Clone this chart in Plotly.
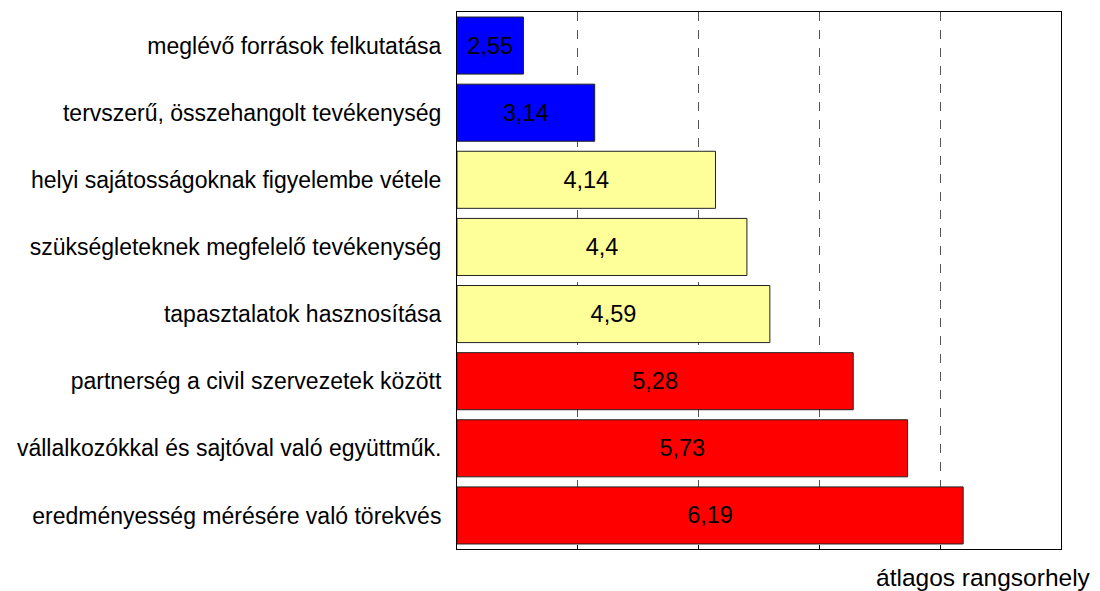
import plotly.graph_objects as go

categories = [
    "meglévő források felkutatása",
    "tervszerű, összehangolt tevékenység",
    "helyi sajátosságoknak figyelembe vétele",
    "szükségleteknek megfelelő tevékenység",
    "tapasztalatok hasznosítása",
    "partnerség a civil szervezetek között",
    "vállalkozókkal és sajtóval való együttműk.",
    "eredményesség mérésére való törekvés",
]
values = [2.55, 3.14, 4.14, 4.4, 4.59, 5.28, 5.73, 6.19]
colors = ["#0000FF", "#0000FF", "#FFFF99", "#FFFF99", "#FFFF99", "#FF0000", "#FF0000", "#FF0000"]
x_title = "átlagos rangsorhely"
axis_min, axis_max = 2, 7

labels = [f"{v:g}".replace(".", ",") for v in values]

# bars drawn from the axis minimum so the value labels are centred in the visible bar
fig = go.Figure(go.Bar(
    y=categories, x=[v - axis_min for v in values], base=axis_min, orientation="h",
    marker=dict(color=colors, line=dict(color="#222222", width=1)),
    text=labels, textposition="inside", insidetextanchor="middle",
    constraintext="none",
    textfont=dict(family="Liberation Sans, Arial", size=23.5, color="black"),
    hovertext=labels,
))

fig.update_layout(
    width=1092, height=583,
    margin=dict(l=449, r=39, t=4, b=42),
    paper_bgcolor="white", plot_bgcolor="white",
    bargap=0.15,
    showlegend=False,
    font=dict(family="Liberation Sans, Arial", size=23, color="black"),
    xaxis=dict(
        range=[axis_min, axis_max], tickvals=[3, 4, 5, 6], showticklabels=False,
        showgrid=True, gridcolor="#555555", griddash="dash", gridwidth=1,
        ticks="inside", ticklen=4, tickcolor="black",
        showline=True, linecolor="black", linewidth=1, mirror=True,
        zeroline=False, automargin=False,
    ),
    yaxis=dict(
        categoryorder="array", categoryarray=categories, autorange="reversed",
        showline=True, linecolor="black", linewidth=1, mirror=True,
        ticks="", ticklabelstandoff=10, automargin=False,
        tickfont=dict(size=23),
    ),
    annotations=[dict(
        text=x_title, xref="paper", yref="paper", x=1.053, y=-0.054,
        xanchor="right", yanchor="middle", showarrow=False,
        font=dict(size=24.5),
    )],
)

fig.write_html("out.html")
